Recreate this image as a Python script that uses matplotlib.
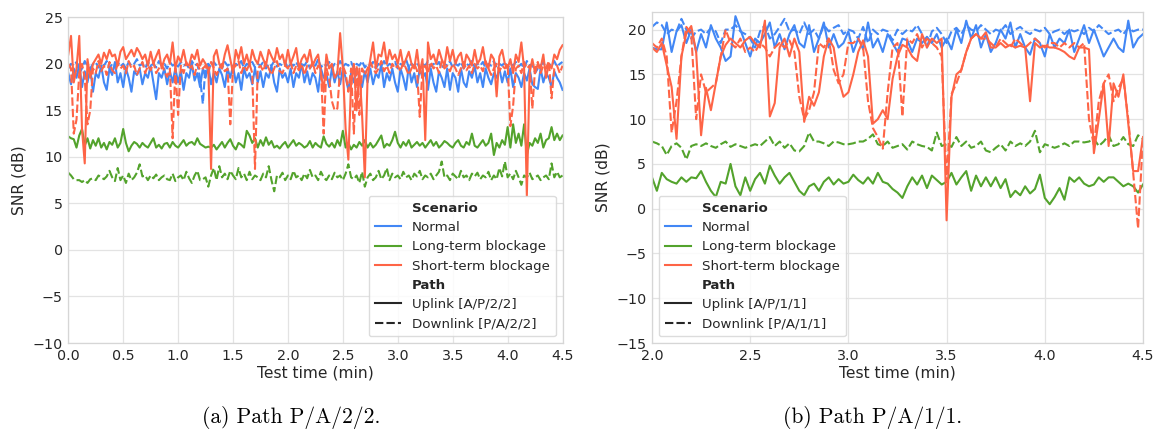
import numpy as np
import matplotlib
matplotlib.use("Agg")
import matplotlib.pyplot as plt
from matplotlib.lines import Line2D

# ---------------------------------------------------------------------------
# SNR traces (dB), one sample every 0.025 min
# ---------------------------------------------------------------------------
step_min = 0.025

# Path P/A/2/2, from 0.0 min
start_a = 0.0
normal_up_a = [
    19.0, 17.8, 19.5, 18.5, 20.0, 17.5, 19.2, 18.0, 19.5, 17.0,
    19.0, 18.5, 19.8, 18.0, 17.2, 19.5, 18.8, 20.2, 18.0, 19.0,
    17.5, 19.5, 18.5, 17.0, 19.2, 18.8, 19.5, 17.8, 19.0, 18.5,
    19.8, 18.0, 16.2, 19.0, 18.5, 19.5, 17.8, 19.2, 18.0, 19.5,
    18.0, 19.2, 17.2, 19.0, 18.5, 20.0, 18.2, 19.0, 17.5, 19.5,
    18.5, 19.8, 17.8, 19.0, 18.0, 19.5, 18.8, 17.5, 19.5, 18.5,
    19.8, 18.0, 19.0, 17.2, 19.5, 18.5, 19.0, 17.8, 19.5, 18.0,
    19.2, 17.5, 19.0, 18.5, 19.8, 18.0, 17.0, 19.5, 18.5, 19.0,
    18.0, 19.5, 17.5, 19.0, 18.5, 20.0, 18.0, 19.2, 17.8, 19.0,
    18.5, 17.0, 19.5, 18.5, 19.0, 17.5, 19.5, 18.0, 19.2, 17.8,
    19.5, 18.5, 17.2, 19.0, 18.0, 19.5, 18.5, 17.5, 19.2, 18.0,
    19.5, 17.8, 19.0, 18.5, 20.0, 17.5, 19.0, 18.2, 19.5, 18.0,
    17.0, 19.5, 18.5, 17.2, 19.8, 18.0, 19.0, 17.5, 19.5, 18.5,
    19.0, 17.2, 19.5, 18.0, 17.0, 19.2, 18.5, 17.5, 19.5, 17.2,
    19.0, 18.5, 17.0, 19.5, 18.0, 17.5, 19.2, 18.5, 19.8, 18.0,
    19.0, 17.5, 19.5, 18.5, 17.8, 19.0, 18.5, 19.5, 18.0, 19.2,
    18.0, 19.5, 17.5, 19.0, 18.5, 17.5, 19.0, 18.2, 19.5, 17.8,
    17.5, 17.3, 19.5, 18.0, 19.0, 18.5, 17.5, 19.2, 18.5, 18.0, 17.2,
]
normal_down_a = [
    19.5, 20.0, 19.8, 20.2, 19.0, 19.5, 20.3, 19.8, 19.5, 20.0,
    20.2, 19.6, 20.0, 19.8, 20.3, 19.5, 20.0, 19.8, 20.2, 19.7,
    20.0, 19.5, 20.2, 19.8, 20.0, 20.5, 19.8, 20.0, 19.5, 20.2,
    19.8, 20.0, 19.6, 20.3, 19.8, 20.0, 19.5, 20.2, 19.8, 20.0,
    19.7, 20.2, 19.8, 20.0, 19.5, 20.3, 19.8, 20.0, 18.5, 15.7,
    19.8, 20.0, 19.6, 20.2, 19.8, 20.0, 19.5, 20.2, 19.8, 20.0,
    19.7, 20.0, 19.8, 20.3, 19.5, 20.0, 19.8, 20.2, 19.6, 20.0,
    19.8, 20.2, 19.5, 20.0, 19.8, 20.3, 19.7, 20.0, 19.8, 20.2,
    19.5, 20.0, 19.8, 20.2, 19.6, 20.0, 19.8, 20.3, 19.5, 20.0,
    19.8, 20.5, 19.6, 20.0, 19.8, 20.2, 19.5, 20.0, 19.8, 20.3,
    19.7, 20.0, 19.8, 20.2, 19.5, 20.0, 19.8, 20.3, 19.6, 20.0,
    19.8, 20.2, 19.5, 20.0, 19.8, 20.3, 19.7, 20.0, 19.8, 20.2,
    19.5, 20.0, 19.8, 20.5, 19.6, 20.0, 19.8, 20.2, 19.5, 20.0,
    19.8, 20.3, 19.7, 20.0, 19.8, 20.2, 19.5, 20.0, 19.8, 20.3,
    19.6, 20.0, 19.8, 20.2, 19.5, 20.0, 19.8, 20.3, 19.7, 20.0,
    19.8, 20.2, 19.5, 20.0, 19.8, 20.3, 19.6, 20.0, 19.8, 20.2,
    19.5, 20.0, 19.8, 20.2, 19.7, 20.0, 19.5, 20.3, 19.8, 20.0,
    19.0, 19.5, 19.8, 20.2, 19.5, 20.0, 19.8, 20.3, 19.7, 20.0, 20.2,
]
longterm_up_a = [
    12.2, 12.0, 11.9, 11.0, 12.3, 13.0, 11.2, 12.0, 10.9, 11.8,
    11.2, 12.0, 11.0, 11.5, 10.8, 11.6, 11.3, 12.0, 11.0, 11.5,
    13.0, 11.5, 10.6, 11.2, 11.6, 11.4, 11.0, 11.5, 11.2, 11.0,
    11.5, 12.0, 11.0, 11.3, 10.9, 11.4, 11.5, 11.0, 11.6, 11.2,
    11.0, 11.4, 11.8, 11.2, 11.5, 11.6, 11.3, 12.0, 11.4, 11.2,
    11.0, 11.1, 11.0, 11.3, 10.8, 11.2, 11.6, 11.0, 11.5, 11.9,
    11.2, 10.8, 11.5, 11.3, 11.0, 12.8, 12.3, 11.5, 12.0, 11.0,
    11.8, 11.2, 12.1, 11.3, 11.7, 11.0, 11.2, 10.9, 11.3, 11.6,
    11.0, 11.4, 11.8, 11.2, 11.5, 11.3, 11.0, 11.2, 11.7, 11.0,
    11.5, 11.2, 11.0, 12.2, 11.4, 11.1, 11.5, 11.0, 11.8, 11.2,
    12.8, 11.0, 11.5, 10.8, 11.3, 11.0, 11.6, 11.2, 11.8, 11.0,
    11.5, 11.0, 11.3, 11.8, 12.3, 11.0, 11.4, 11.2, 11.8, 12.7,
    11.5, 11.0, 11.6, 11.2, 11.8, 11.0, 11.3, 11.6, 11.2, 11.5,
    11.0, 11.4, 11.8, 11.2, 11.6, 11.0, 11.3, 11.7, 11.5, 11.2,
    11.0, 11.5, 11.8, 11.2, 11.0, 11.6, 11.3, 12.5, 11.2, 11.0,
    11.4, 11.8, 11.2, 11.5, 12.5, 10.2, 11.5, 11.0, 11.8, 11.3,
    13.2, 11.0, 13.5, 11.5, 12.5, 11.2, 13.5, 10.2, 11.5, 11.2,
    12.0, 11.5, 12.5, 11.0, 11.8, 12.0, 13.2, 11.8, 12.5, 11.8, 12.3,
]
longterm_down_a = [
    8.3, 8.0, 7.6, 7.5, 7.5, 7.3, 7.5, 7.2, 7.6, 7.7,
    7.5, 8.0, 7.8, 7.6, 7.9, 8.5, 7.8, 7.4, 8.8, 7.5,
    8.0, 7.2, 8.2, 7.5, 7.8, 8.3, 9.2, 7.9, 8.0, 7.5,
    8.0, 7.7, 8.1, 7.5, 7.8, 8.0, 7.6, 7.5, 8.2, 7.4,
    7.8, 8.0, 7.5, 8.4, 7.7, 7.2, 8.0, 8.5, 7.5, 7.6,
    7.8, 6.8, 8.0, 8.8, 7.5, 9.0, 7.8, 8.2, 7.6, 8.5,
    8.0, 7.6, 8.8, 7.8, 8.2, 7.5, 8.4, 7.6, 8.0, 7.8,
    7.5, 8.2, 7.8, 9.0, 7.5, 6.3, 8.0, 7.8, 8.3, 7.5,
    8.0, 7.6, 8.5, 7.8, 8.0, 7.5, 8.2, 7.7, 8.6, 7.8,
    8.0, 7.5, 8.4, 7.8, 7.5, 8.0, 7.6, 8.3, 7.8, 8.0,
    7.5, 8.2, 9.2, 7.8, 7.6, 8.0, 7.2, 8.4, 6.8, 7.8,
    8.2, 7.5, 7.8, 8.5, 7.6, 8.0, 8.8, 7.5, 8.2, 7.8,
    8.0, 7.6, 8.4, 7.8, 8.0, 7.5, 8.2, 7.9, 8.5, 7.6,
    8.0, 7.8, 8.2, 7.6, 8.0, 8.4, 9.5, 7.8, 8.0, 7.5,
    8.2, 7.9, 7.6, 8.5, 7.8, 8.0, 7.5, 8.2, 7.9, 8.3,
    7.6, 8.0, 7.8, 8.4, 7.5, 8.0, 7.6, 8.8, 7.9, 9.5,
    7.8, 8.2, 7.6, 8.5, 7.8, 7.0, 8.0, 7.8, 8.3, 7.6,
    7.8, 8.0, 7.5, 7.8, 8.0, 7.6, 9.3, 7.8, 8.4, 7.8, 8.0,
]
shortterm_up_a = [
    21.0, 23.0, 18.0, 19.5, 23.0, 13.0, 9.3, 20.5, 18.5, 20.0,
    20.5, 21.0, 20.0, 21.2, 20.5, 21.5, 20.8, 21.0, 19.8, 21.3,
    21.8, 20.5, 21.0, 21.5, 20.8, 21.7, 21.2, 20.5, 21.0, 19.8,
    21.3, 20.0, 20.8, 21.5, 19.5, 20.5, 21.0, 20.0, 22.3, 19.5,
    20.8, 20.2, 21.5, 20.0, 19.8, 21.0, 20.5, 21.5, 19.8, 20.5,
    20.0, 19.5, 8.7, 20.8, 21.5, 20.0, 19.5, 21.0, 22.0, 20.5,
    19.0, 21.5, 20.5, 21.8, 20.0, 21.0, 19.8, 21.5, 20.5, 20.0,
    21.3, 20.5, 19.8, 21.5, 20.8, 20.2, 21.7, 20.5, 21.0, 19.8,
    21.5, 20.0, 20.8, 21.7, 19.5, 20.5, 21.0, 20.2, 21.5, 19.8,
    20.5, 21.0, 19.0, 17.0, 21.0, 19.5, 20.0, 18.5, 19.0, 23.3,
    19.5, 13.0, 9.7, 18.0, 20.0, 15.0, 19.5, 14.5, 7.8, 18.5,
    20.5, 22.3, 19.5, 21.0, 20.8, 22.3, 20.0, 21.5, 20.5, 21.0,
    20.0, 21.5, 19.8, 20.5, 21.3, 20.0, 19.5, 21.5, 19.0, 20.5,
    11.8, 22.3, 20.5, 21.0, 20.0, 21.5, 20.5, 19.8, 21.8, 20.3,
    21.5, 20.0, 20.8, 21.2, 19.5, 21.0, 20.5, 19.8, 21.5, 20.0,
    20.5, 21.8, 20.0, 19.5, 21.0, 20.5, 16.5, 20.8, 21.5, 20.0,
    19.5, 20.5, 19.0, 21.0, 20.2, 22.3, 19.5, 5.8, 19.0, 20.5,
    19.0, 20.0, 19.5, 21.0, 18.5, 20.0, 19.5, 21.0, 20.5, 21.5, 22.0,
]
shortterm_down_a = [
    20.0, 19.5, 12.5, 14.0, 19.0, 20.0, 18.5, 13.5, 15.0, 19.5,
    19.0, 20.3, 19.2, 19.8, 18.8, 20.2, 19.3, 19.0, 20.0, 19.5,
    19.8, 19.0, 20.3, 19.5, 19.8, 18.8, 19.5, 20.2, 19.0, 19.8,
    19.3, 20.2, 19.0, 19.5, 20.0, 19.2, 18.6, 19.5, 12.0, 19.5,
    14.5, 19.8, 19.0, 20.2, 19.5, 19.8, 18.8, 20.0, 19.3, 19.5,
    19.8, 19.0, 20.2, 19.5, 18.8, 19.5, 20.0, 19.2, 19.5, 13.5,
    19.5, 19.8, 20.3, 19.0, 19.8, 19.3, 20.0, 19.0, 8.7, 19.5,
    19.8, 19.2, 20.2, 19.5, 18.8, 19.5, 20.3, 19.2, 19.0, 19.8,
    19.5, 20.2, 19.0, 19.8, 19.3, 20.0, 18.8, 19.8, 19.5, 20.2,
    19.0, 19.8, 19.5, 12.5, 19.5, 18.5, 16.0, 15.0, 15.2, 19.5,
    19.8, 19.0, 17.0, 19.5, 12.5, 19.8, 14.5, 19.5, 18.8, 19.5,
    20.2, 19.5, 19.0, 19.5, 20.3, 19.2, 19.8, 19.0, 20.0, 19.5,
    19.8, 19.2, 20.2, 19.5, 18.8, 19.5, 20.0, 19.3, 14.3, 19.5,
    19.8, 19.0, 20.2, 19.5, 19.8, 19.0, 20.3, 19.5, 19.8, 19.2,
    20.0, 19.5, 18.8, 19.5, 20.2, 19.3, 19.8, 19.0, 20.0, 19.5,
    19.8, 19.2, 20.3, 19.5, 18.8, 19.5, 20.0, 19.2, 19.8, 19.5,
    20.0, 13.3, 15.5, 19.5, 19.8, 19.0, 20.2, 19.5, 19.8, 15.2,
    19.5, 20.2, 19.0, 19.8, 19.5, 20.3, 16.3, 19.5, 19.8, 19.0, 19.8,
]

# Path P/A/1/1, from 2.0 min
start_b = 2.0
normal_up_b = [
    18.0, 17.8, 17.8, 20.8, 17.5, 19.8, 20.5, 18.5, 20.0, 17.5,
    19.5, 18.0, 20.5, 19.0, 18.0, 16.5, 17.0, 21.5, 20.0, 18.5,
    17.0, 19.0, 18.5, 19.5, 20.8, 18.0, 19.5, 17.8, 19.5, 20.5,
    18.5, 18.0, 20.5, 17.5, 19.0, 20.8, 18.0, 19.5, 18.0, 18.5,
    19.8, 17.5, 19.0, 17.8, 20.8, 18.0, 19.0, 17.5, 19.5, 18.5,
    17.5, 19.0, 18.8, 17.5, 19.0, 18.5, 19.2, 18.5, 19.5, 18.0,
    19.0, 17.8, 20.0, 18.5, 21.0, 19.0, 20.5, 18.0, 19.5, 17.5,
    18.5, 20.0, 19.0, 20.8, 18.0, 19.5, 18.0, 17.2, 19.0, 18.5,
    17.0, 19.5, 18.0, 19.0, 18.5, 20.0, 17.5, 19.0, 20.5, 18.5,
    20.0, 18.5, 17.0, 18.0, 19.0, 18.0, 17.5, 21.0, 18.0, 19.0,
    19.5,
]
normal_down_b = [
    20.3, 20.8, 20.5, 19.5, 20.0, 19.8, 21.2, 20.0, 19.0, 19.8,
    20.0, 19.5, 20.2, 19.8, 18.5, 20.0, 20.0, 20.5, 19.8, 19.5,
    19.0, 18.0, 19.8, 20.5, 19.0, 19.5, 20.3, 21.2, 19.8, 20.0,
    19.5, 20.8, 19.5, 20.0, 19.0, 20.5, 19.8, 20.2, 20.5, 19.5,
    20.0, 19.8, 19.0, 20.3, 18.5, 20.0, 19.5, 20.0, 19.8, 18.8,
    20.0, 19.5, 20.0, 19.8, 20.5, 19.5, 18.0, 19.8, 20.2, 19.5,
    18.5, 19.8, 20.2, 19.5, 20.5, 20.0, 19.8, 20.5, 20.0, 19.5,
    20.0, 19.8, 20.5, 19.5, 20.0, 20.3, 19.8, 19.5, 20.0, 19.8,
    20.2, 19.5, 19.8, 20.0, 19.5, 20.0, 19.8, 20.0, 19.5, 20.2,
    19.8, 20.5, 20.0, 19.5, 19.8, 20.0, 19.5, 20.2, 19.8, 20.0,
    20.0,
]
longterm_up_b = [
    3.5, 2.0, 4.0, 3.3, 3.0, 2.8, 3.5, 3.0, 3.5, 3.4,
    4.2, 3.0, 2.0, 1.3, 3.0, 2.8, 5.0, 2.5, 1.5, 3.5,
    2.0, 3.3, 4.0, 2.8, 4.8, 3.7, 2.8, 3.5, 4.0, 3.0,
    2.0, 1.5, 2.5, 2.8, 2.0, 3.0, 3.5, 2.7, 3.3, 2.8,
    3.0, 3.8, 3.2, 2.8, 3.5, 2.8, 4.0, 3.0, 2.8, 2.2,
    1.8, 1.2, 2.5, 3.5, 2.7, 3.7, 2.3, 3.7, 3.2, 2.7,
    3.0, 4.0, 2.7, 3.5, 4.2, 2.0, 3.7, 2.5, 3.5, 2.5,
    3.5, 2.3, 3.3, 1.3, 2.0, 1.5, 2.5, 1.7, 2.2, 3.8,
    1.2, 0.5, 1.3, 2.3, 1.0, 3.5, 3.0, 3.5, 2.8, 2.5,
    2.7, 3.5, 3.0, 3.5, 3.5, 3.0, 2.5, 2.8, 2.5, 1.8,
    2.7,
]
longterm_down_b = [
    7.5, 7.3, 7.0, 6.0, 7.0, 7.3, 6.8, 5.5, 7.0, 7.2,
    7.0, 7.3, 7.0, 6.8, 7.2, 7.5, 6.9, 7.2, 7.0, 6.8,
    7.0, 7.2, 7.0, 7.5, 8.0, 7.0, 7.5, 6.8, 7.3, 6.5,
    6.4, 7.0, 8.5, 7.5, 7.5, 7.3, 7.0, 7.5, 7.4, 7.2,
    7.2, 7.3, 7.5, 7.5, 7.8, 8.3, 7.2, 7.0, 7.5, 6.8,
    7.0, 7.2, 6.6, 7.5, 7.2, 7.0, 6.9, 6.5, 8.5, 7.0,
    7.2, 6.9, 8.0, 7.0, 7.5, 6.8, 7.0, 7.5, 6.5, 6.3,
    6.8, 7.2, 6.5, 7.5, 7.0, 7.3, 7.0, 7.5, 8.7, 6.3,
    7.2, 7.0, 6.8, 7.0, 7.3, 7.0, 7.5, 7.5, 7.4, 7.5,
    7.8, 7.0, 7.5, 8.2, 7.0, 7.2, 8.0, 7.2, 7.0, 8.2,
    7.8,
]
shortterm_up_b = [
    18.0, 17.5, 18.5, 16.0, 13.6, 7.8, 17.0, 19.6, 20.4, 17.5,
    8.2, 13.5, 11.0, 14.0, 17.0, 18.3, 19.0, 18.5, 18.0, 18.8,
    19.2, 18.5, 18.0, 21.0, 10.3, 11.8, 18.0, 19.0, 17.0, 19.0,
    17.5, 9.7, 12.5, 11.5, 13.0, 17.0, 19.0, 18.0, 14.5, 12.5,
    13.0, 15.0, 17.5, 18.8, 17.0, 9.5, 10.0, 11.0, 10.0, 14.5,
    17.0, 18.3, 18.0, 17.0, 16.5, 19.5, 18.0, 19.0, 18.5, 19.0,
    -1.3, 12.5, 15.0, 15.5, 17.5, 19.0, 19.5, 19.0, 19.7, 18.0,
    18.0, 18.5, 18.0, 18.3, 18.0, 18.2, 18.0, 12.0, 18.5, 18.0,
    18.2, 18.0, 18.0, 17.8, 17.5, 17.0, 16.7, 18.0, 18.0, 17.8,
    6.2, 10.0, 14.0, 7.0, 14.0, 12.5, 15.0, 9.5, 4.2, 4.2,
    8.0,
]
shortterm_down_b = [
    18.5, 18.0, 19.0, 17.0, 8.5, 12.0, 17.0, 20.3, 19.5, 10.0,
    15.0, 13.0, 13.5, 14.0, 17.0, 20.0, 18.5, 18.0, 19.0, 17.5,
    18.0, 17.5, 18.5, 18.0, 17.0, 18.0, 18.5, 18.0, 18.8, 17.5,
    12.5, 10.0, 11.0, 13.0, 18.5, 18.0, 19.0, 15.5, 14.0, 15.0,
    18.5, 18.5, 19.0, 18.0, 12.0, 9.0, 8.0, 6.7, 13.0, 18.0,
    18.5, 10.3, 19.0, 18.5, 19.5, 18.0, 19.0, 18.5, 18.0, 17.0,
    3.0, 12.8, 14.0, 15.5, 17.5, 19.0, 19.5, 19.0, 19.0, 18.5,
    18.0, 19.0, 18.5, 18.0, 19.0, 18.5, 18.0, 18.5, 19.0, 18.5,
    18.0, 18.5, 18.5, 18.0, 18.5, 18.0, 18.5, 18.0, 18.5, 10.0,
    7.0, 12.0, 14.0, 15.0, 12.0, 13.5, 14.5, 10.0, 4.0, -2.2,
    8.0,
]

scenarios = ["Normal", "Long-term blockage", "Short-term blockage"]
scenario_colors = ["#4287f5", "#53a32c", "#fe6446"]

panels = [
    dict(start=start_a, up=[normal_up_a, longterm_up_a, shortterm_up_a],
         down=[normal_down_a, longterm_down_a, shortterm_down_a],
         xlim=(0.0, 4.5), ylim=(-10, 25), loc="lower right",
         uplink="Uplink [A/P/2/2]", downlink="Downlink [P/A/2/2]",
         caption="(a) Path P/A/2/2."),
    dict(start=start_b, up=[normal_up_b, longterm_up_b, shortterm_up_b],
         down=[normal_down_b, longterm_down_b, shortterm_down_b],
         xlim=(2.0, 4.5), ylim=(-15, 22), loc="lower left",
         uplink="Uplink [A/P/1/1]", downlink="Downlink [P/A/1/1]",
         caption="(b) Path P/A/1/1."),
]

plt.rcParams["font.family"] = ["DejaVu Sans"]
text_color = "#262626"
grid_color = "#e3e3e3"
dash_pattern = (4, 1.5)
lw = 1.5

fig = plt.figure(figsize=(11.63, 4.30), dpi=100)
axes = [
    fig.add_axes([0.0587, 0.2023, 0.4250, 0.7575]),
    fig.add_axes([0.5606, 0.2023, 0.4222, 0.7705]),
]
caption_x = [0.2505, 0.7505]

for ax, p, cx in zip(axes, panels, caption_x):
    for up, down, color in zip(p["up"], p["down"], scenario_colors):
        t_up = p["start"] + step_min * np.arange(len(up))
        t_down = p["start"] + step_min * np.arange(len(down))
        ax.plot(t_up, up, color=color, lw=lw, solid_joinstyle="round")
        ax.plot(t_down, down, color=color, lw=lw, dashes=dash_pattern)

    ax.set_xlim(*p["xlim"])
    ax.set_ylim(*p["ylim"])
    ax.set_xticks(np.arange(p["xlim"][0], p["xlim"][1] + 0.01, 0.5))
    ax.set_facecolor("white")
    ax.grid(True, color=grid_color, lw=0.9)
    ax.set_axisbelow(True)
    for s in ax.spines.values():
        s.set_color("#d6d6d6")
        s.set_linewidth(0.9)
    ax.tick_params(length=0, labelsize=10.3, colors=text_color, pad=4)
    ax.set_xlabel("Test time (min)", fontsize=11.2, color=text_color, labelpad=2)
    ax.set_ylabel("SNR (dB)", fontsize=11.2, color=text_color, labelpad=4)

    handles = [Line2D([], [], linestyle="", marker="")]
    labels = ["Scenario"]
    for name, color in zip(scenarios, scenario_colors):
        handles.append(Line2D([], [], color=color, lw=lw))
        labels.append(name)
    handles.append(Line2D([], [], linestyle="", marker=""))
    labels.append("Path")
    handles.append(Line2D([], [], color=text_color, lw=lw))
    labels.append(p["uplink"])
    handles.append(Line2D([], [], color=text_color, lw=lw, dashes=dash_pattern))
    labels.append(p["downlink"])

    leg = ax.legend(handles, labels, loc=p["loc"], fontsize=9.6,
                    frameon=True, fancybox=True, framealpha=0.85,
                    edgecolor="#d6d6d6", handlelength=2.0,
                    labelspacing=0.47, borderpad=0.45, handletextpad=0.8)
    for txt in leg.get_texts():
        txt.set_color(text_color)
        if txt.get_text() in ("Scenario", "Path"):
            txt.set_fontweight("bold")

    fig.text(cx, 0.030, p["caption"], family="cmr10", fontsize=15.5,
             ha="center", va="center", color="black")

fig.savefig("out.png", dpi=100)
